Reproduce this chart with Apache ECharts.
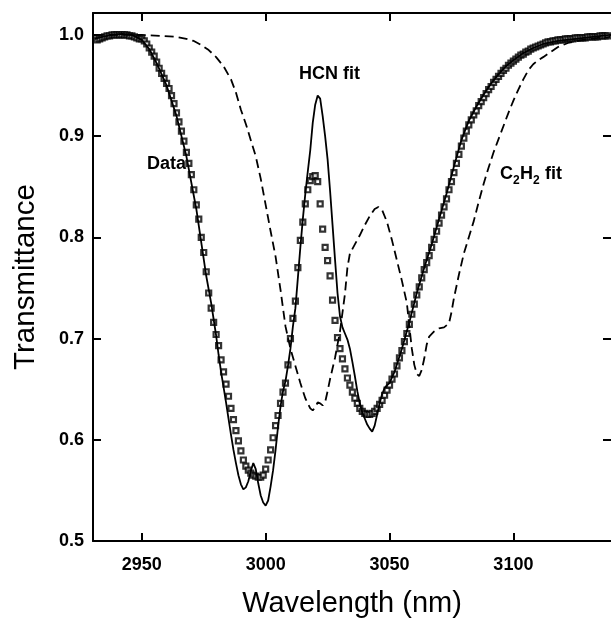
<!DOCTYPE html>
<html><head><meta charset="utf-8">
<script src="https://cdn.jsdelivr.net/npm/echarts/dist/echarts.min.js"></script>
<style>html,body{margin:0;padding:0;background:#fff;overflow:hidden}#c{width:611px;height:623px}</style>
</head><body><div id="c"></div>
<script>
// Measured data (open squares): wavelength grid start/step and transmittance values
const dataStartNm = 2932;
const dataStepNm = 1;
const dataT = [
0.995,0.996,0.997,0.998,0.999,0.999,1.000,1.000,1.000,1.000,
1.000,1.000,1.000,0.999,0.999,0.998,0.997,0.996,0.996,0.994,
0.991,0.987,0.983,0.979,0.973,0.967,0.962,0.957,0.952,0.947,
0.940,0.932,0.923,0.914,0.905,0.895,0.884,0.873,0.862,0.847,
0.832,0.818,0.800,0.785,0.766,0.745,0.730,0.716,0.704,0.693,
0.679,0.667,0.655,0.643,0.631,0.620,0.609,0.599,0.589,0.580,
0.574,0.570,0.567,0.565,0.564,0.563,0.563,0.565,0.571,0.580,
0.590,0.602,0.614,0.624,0.636,0.647,0.656,0.674,0.700,0.720,
0.737,0.770,0.797,0.815,0.833,0.847,0.856,0.860,0.861,0.855,
0.833,0.808,0.790,0.777,0.762,0.738,0.718,0.701,0.690,0.680,
0.670,0.661,0.654,0.647,0.641,0.636,0.631,0.628,0.626,0.625,
0.625,0.626,0.628,0.631,0.635,0.639,0.644,0.649,0.654,0.660,
0.665,0.673,0.681,0.688,0.697,0.705,0.714,0.724,0.734,0.743,
0.751,0.760,0.768,0.775,0.782,0.790,0.798,0.806,0.814,0.822,
0.830,0.838,0.847,0.855,0.864,0.873,0.882,0.890,0.898,0.905,
0.911,0.916,0.921,0.925,0.930,0.934,0.938,0.942,0.946,0.949,
0.953,0.956,0.959,0.962,0.965,0.967,0.970,0.972,0.974,0.976,
0.978,0.980,0.981,0.983,0.984,0.986,0.987,0.988,0.989,0.990,
0.991,0.992,0.993,0.993,0.994,0.994,0.995,0.995,0.995,0.996,
0.996,0.996,0.996,0.997,0.997,0.997,0.997,0.997,0.998,0.998,
0.998,0.998,0.998,0.999,0.999,0.999,0.999
];

// HCN fit (solid line)
const hcnNm = [2931,2934,2938,2942,2946,2950,2953,2956,2960,2964,2968,2972,2976,2978,2980,2981,2982,2983,2984,2985,2986,2987,2988,2989,2990,2991,2992,2993,2994,2995,2996,2997,2998,2999,3000,3001,3002,3003,3004,3005,3006,3007,3008,3009,3010,3011,3012,3013,3014,3015,3016,3017,3018,3019,3020,3021,3022,3023,3024,3025,3026,3027,3028,3029,3030,3031,3032,3033,3034,3035,3036,3037,3038,3039,3040,3041,3042,3043,3044,3045,3046,3047,3048,3049,3050,3052,3055,3058,3061,3064,3067,3070,3073,3076,3079,3082,3085,3088,3091,3094,3097,3100,3104,3108,3112,3118,3125,3132,3139];
const hcnT = [0.996,0.998,1.000,1.001,1.000,0.995,0.986,0.972,0.950,0.920,0.880,0.828,0.762,0.735,0.703,0.684,0.667,0.652,0.637,0.621,0.605,0.590,0.577,0.565,0.556,0.551,0.553,0.559,0.569,0.577,0.571,0.557,0.545,0.538,0.535,0.540,0.554,0.570,0.590,0.613,0.633,0.648,0.658,0.673,0.690,0.712,0.730,0.760,0.790,0.818,0.843,0.865,0.886,0.913,0.931,0.940,0.937,0.920,0.900,0.877,0.846,0.812,0.778,0.745,0.722,0.711,0.705,0.699,0.690,0.677,0.663,0.648,0.636,0.627,0.621,0.615,0.611,0.608,0.614,0.625,0.636,0.645,0.651,0.654,0.656,0.667,0.690,0.716,0.745,0.770,0.793,0.818,0.843,0.870,0.896,0.915,0.929,0.941,0.952,0.961,0.969,0.975,0.982,0.987,0.991,0.994,0.996,0.998,1.000];

// C2H2 fit (dashed line)
const c2h2Nm = [2931,2940,2950,2958,2964,2968,2971,2974,2977,2980,2983,2986,2988,2990,2992,2994,2996,2998,3000,3002,3004,3006,3008,3010,3012,3014,3016,3018,3019,3020,3021,3022,3023,3024,3025,3026,3028,3030,3032,3033,3034,3036,3038,3040,3042,3044,3045.5,3047,3049,3051,3053,3055,3057,3058,3059,3060,3061,3062,3063,3064,3065,3066,3068,3070,3072,3074,3075,3076,3078,3080,3082,3084,3086,3088,3090,3092,3094,3096,3098,3100,3102,3104,3106,3108,3110,3112,3115,3118,3122,3128,3134,3139];
const c2h2T = [1.000,1.000,1.000,0.999,0.998,0.996,0.994,0.990,0.985,0.978,0.969,0.956,0.943,0.926,0.912,0.896,0.880,0.858,0.832,0.806,0.781,0.748,0.712,0.690,0.673,0.656,0.641,0.631,0.629,0.632,0.637,0.636,0.634,0.637,0.648,0.660,0.681,0.707,0.744,0.770,0.784,0.793,0.802,0.812,0.821,0.828,0.830,0.827,0.815,0.797,0.777,0.757,0.735,0.712,0.690,0.674,0.665,0.663,0.669,0.680,0.694,0.702,0.707,0.710,0.711,0.715,0.726,0.740,0.763,0.784,0.800,0.816,0.835,0.853,0.869,0.884,0.897,0.910,0.923,0.935,0.946,0.956,0.965,0.971,0.975,0.978,0.983,0.988,0.992,0.995,0.997,0.998];

const xTicks = [2950, 3000, 3050, 3100];
const yTicks = [0.5, 0.6, 0.7, 0.8, 0.9, 1.0];
const xTitle = 'Wavelength (nm)';
const yTitle = 'Transmittance';

const FF = '"Liberation Sans", Arial, sans-serif';
const dataPts = dataT.map((v, i) => [dataStartNm + i * dataStepNm, v]);
const hcnPts = hcnNm.map((x, i) => [x, hcnT[i]]);
const c2h2Pts = c2h2Nm.map((x, i) => [x, c2h2T[i]]);

const XMIN = 2930.3, XMAX = 3139.4, YMIN = 0.5, YMAX = 1.0216;
const lineSty = {color: '#000', width: 2};
const tickSty = {color: '#000', width: 2};

const chart = echarts.init(document.getElementById('c'), null, {renderer: 'canvas'});
const txt = (t, x, y, size) => ({type: 'text', x: x, y: y, z: 10, style: {text: t, font: 'bold ' + size + 'px ' + FF, fill: '#000', textAlign: 'left', textVerticalAlign: 'middle', align: 'left', verticalAlign: 'middle'}});
chart.setOption({
  animation: false,
  backgroundColor: '#fff',
  grid: {left: 93, top: 13, width: 520, height: 532},
  xAxis: [
    {type: 'value', min: XMIN, max: XMAX, position: 'bottom',
     axisLine: {onZero: false, lineStyle: lineSty},
     axisTick: {inside: true, length: 8, lineStyle: tickSty, customValues: xTicks},
     axisLabel: {customValues: xTicks, formatter: v => String(Math.round(v)), color: '#000', fontSize: 18, fontWeight: 'bold', fontFamily: FF, margin: 15},
     splitLine: {show: false},
     name: xTitle, nameLocation: 'middle', nameGap: 48,
     nameTextStyle: {fontSize: 29, color: '#000', fontFamily: FF}},
    {type: 'value', min: XMIN, max: XMAX, position: 'top',
     axisLine: {onZero: false, lineStyle: lineSty},
     axisTick: {inside: true, length: 8, lineStyle: tickSty, customValues: xTicks},
     axisLabel: {show: false}, splitLine: {show: false}}
  ],
  yAxis: [
    {type: 'value', min: YMIN, max: YMAX, position: 'left',
     axisLine: {show: true, onZero: false, lineStyle: lineSty},
     axisTick: {show: true, inside: true, length: 8, lineStyle: tickSty, customValues: yTicks},
     axisLabel: {customValues: yTicks, formatter: v => v.toFixed(1), color: '#000', fontSize: 18, fontWeight: 'bold', fontFamily: FF, margin: 9},
     splitLine: {show: false},
     name: yTitle, nameLocation: 'middle', nameGap: 52,
     nameTextStyle: {fontSize: 29.5, color: '#000', fontFamily: FF}},
    {type: 'value', min: YMIN, max: YMAX, position: 'right',
     axisLine: {show: false, onZero: false},
     axisTick: {show: true, inside: true, length: 8, lineStyle: tickSty, customValues: yTicks},
     axisLabel: {show: false}, splitLine: {show: false}}
  ],
  series: [
    {name: 'Data', type: 'scatter', data: dataPts, symbol: 'rect', symbolSize: 5,
     itemStyle: {color: '#fff', borderColor: '#000', borderWidth: 2.2}, z: 2},
    {name: 'HCN fit', type: 'line', data: hcnPts, showSymbol: false, symbol: 'none',
     lineStyle: {color: '#000', width: 1.8}, z: 3},
    {name: 'C2H2 fit', type: 'line', data: c2h2Pts, showSymbol: false, symbol: 'none',
     lineStyle: {color: '#000', width: 1.8, type: [9, 5]}, z: 3}
  ],
  graphic: [
    txt('Data', 147, 164, 18),
    txt('HCN fit', 299, 74, 18),
    txt('C', 500, 174, 18),
    txt('2', 513, 181, 12),
    txt('H', 520, 174, 18),
    txt('2', 533, 181, 12),
    txt(' fit', 540, 174, 18)
  ]
});
</script>
</body></html>
